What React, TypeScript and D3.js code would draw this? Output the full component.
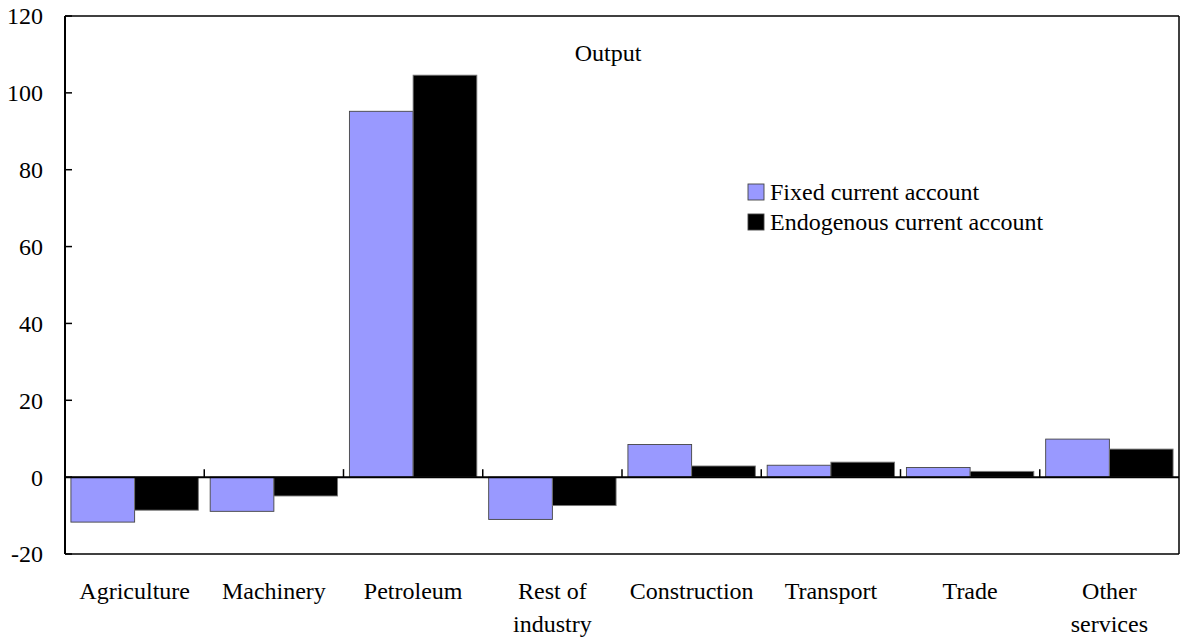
import React from "react";
import * as d3 from "d3";

const categories = [
  "Agriculture",
  "Machinery",
  "Petroleum",
  "Rest of industry",
  "Construction",
  "Transport",
  "Trade",
  "Other services",
];
const labelLines = [
  ["Agriculture"],
  ["Machinery"],
  ["Petroleum"],
  ["Rest of", "industry"],
  ["Construction"],
  ["Transport"],
  ["Trade"],
  ["Other", "services"],
];
const fixedCA = [-11.7, -8.9, 95.2, -11.0, 8.5, 3.1, 2.5, 9.9];
const endogenousCA = [-8.6, -4.9, 104.6, -7.4, 2.9, 3.9, 1.5, 7.3];
const yTicks = [-20, 0, 20, 40, 60, 80, 100, 120];
const seriesNames = ["Fixed current account", "Endogenous current account"];
const seriesColors = ["#9999ff", "#000000"];

const W = 1182;
const H = 640;
const margin = { top: 16, right: 3, bottom: 86, left: 65 };
const font = "Times New Roman, Times, Liberation Serif, DejaVu Serif, serif";
const fs = 24;

const App = () => {
  const x = d3
    .scaleBand<string>()
    .domain(categories)
    .range([margin.left, W - margin.right])
    .padding(0);
  const inner = d3
    .scaleBand<number>()
    .domain([0, 1])
    .range([0, x.bandwidth()])
    .paddingOuter(0.093)
    .paddingInner(0);
  const y = d3
    .scaleLinear()
    .domain([-20, 120])
    .range([H - margin.bottom, margin.top]);

  const series = [fixedCA, endogenousCA];
  const y0 = y(0);
  const x0 = margin.left;
  const x1 = W - margin.right;

  return (
    <svg width={W} height={H} style={{ position: "absolute", left: 0, top: 0, fontFamily: font }}>
      <rect width={W} height={H} fill="#fff" />
      {/* bars */}
      {categories.map((c, i) =>
        series.map((s, j) => {
          const v = s[i];
          const bx = (x(c) as number) + (inner(j) as number);
          return (
            <rect
              key={c + j}
              x={bx}
              y={Math.min(y(v), y0)}
              width={inner.bandwidth()}
              height={Math.abs(y(v) - y0)}
              fill={seriesColors[j]}
              stroke={j === 0 ? "#444" : "#777"}
              strokeWidth={0.9}
            />
          );
        })
      )}
      {/* frame */}
      <line x1={x0} x2={x1} y1={margin.top} y2={margin.top} stroke="#000" strokeWidth={1.5} />
      <line x1={x1} x2={x1} y1={margin.top} y2={y(-20)} stroke="#000" strokeWidth={1.5} />
      <line x1={x0} x2={x1} y1={y(-20)} y2={y(-20)} stroke="#000" strokeWidth={1.5} />
      <line x1={x0} x2={x0} y1={margin.top} y2={y(-20)} stroke="#000" strokeWidth={2} />
      {/* zero line */}
      <line x1={x0} x2={x1} y1={y0} y2={y0} stroke="#000" strokeWidth={2} />
      {categories.slice(1).map((c) => (
        <line key={c} x1={x(c)} x2={x(c)} y1={y0} y2={y0 - 8} stroke="#000" strokeWidth={1.5} />
      ))}
      {/* y axis ticks */}
      {yTicks.map((t) => (
        <g key={t}>
          <line x1={x0} x2={x0 + 7} y1={y(t)} y2={y(t)} stroke="#000" strokeWidth={1.5} />
          <text x={43} y={y(t)} dy="0.35em" textAnchor="end" fontSize={fs}>
            {t}
          </text>
        </g>
      ))}
      {/* x labels */}
      {categories.map((c, i) => (
        <text key={c} x={(x(c) as number) + x.bandwidth() / 2} y={599} textAnchor="middle" fontSize={fs}>
          {labelLines[i].map((l, k) => (
            <tspan key={k} x={(x(c) as number) + x.bandwidth() / 2} dy={k === 0 ? 0 : 33}>
              {l}
            </tspan>
          ))}
        </text>
      ))}
      {/* title */}
      <text x={608} y={61} textAnchor="middle" fontSize={fs}>
        Output
      </text>
      {/* legend */}
      {seriesNames.map((n, j) => (
        <g key={n} transform={`translate(748, ${184 + j * 30})`}>
          <rect width={16} height={16} fill={seriesColors[j]} stroke="#444" strokeWidth={0.9} />
          <text x={22} y={8} dy="0.35em" fontSize={fs}>
            {n}
          </text>
        </g>
      ))}
    </svg>
  );
};

export default App;
